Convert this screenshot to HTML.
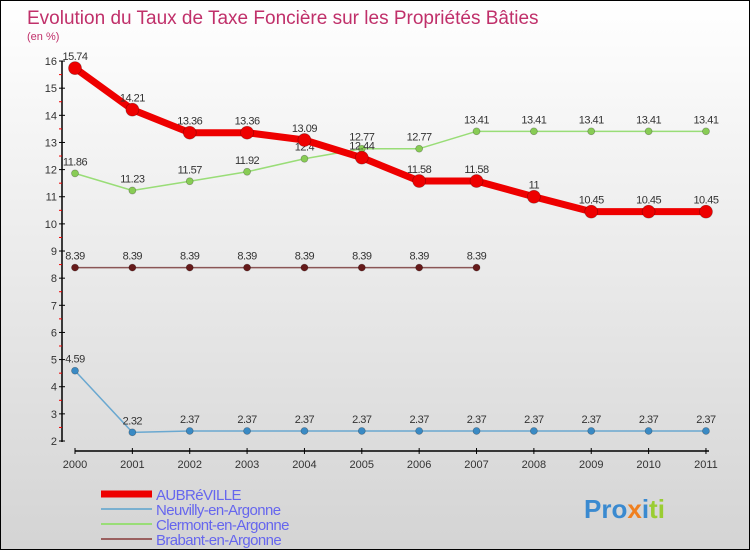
<!DOCTYPE html>
<html><head><meta charset="utf-8"><style>
body{margin:0;width:750px;height:550px;overflow:hidden;font-family:"Liberation Sans",sans-serif}
#c{position:absolute;left:0;top:0;width:748px;height:548px;border:1px solid #000;background:linear-gradient(#fff,#d4d4d4)}
</style></head><body>
<div id="c">
<svg id="s" width="748" height="548"></svg>
</div>
<script>
const years=["2000","2001","2002","2003","2004","2005","2006","2007","2008","2009","2010","2011"];
const aubreville=[15.74,14.21,13.36,13.36,13.09,12.44,11.58,11.58,11,10.45,10.45,10.45];
const neuvilly=[4.59,2.32,2.37,2.37,2.37,2.37,2.37,2.37,2.37,2.37,2.37,2.37];
const clermont=[11.86,11.23,11.57,11.92,12.4,12.77,12.77,13.41,13.41,13.41,13.41,13.41];
const brabant=[8.39,8.39,8.39,8.39,8.39,8.39,8.39,8.39];
const yTicks=[2,3,4,5,6,7,8,9,10,11,12,13,14,15,16];
const NS="http://www.w3.org/2000/svg";
const s=document.getElementById('s');
const X=i=>74+i*57.36;
const Y=v=>440-(v-2)*27.14;
function el(t,a,p){const e=document.createElementNS(NS,t);for(const k in a)e.setAttribute(k,a[k]);(p||s).appendChild(e);return e;}
let t=el('text',{x:26,y:23,fill:'#c0306a','font-size':19});t.textContent="Evolution du Taux de Taxe Foncière sur les Propriétés Bâties";

t=el('text',{x:26,y:39,fill:'#c0306a','font-size':11});t.textContent="(en %)";

let ax=el('line',{x1:61,y1:Y(16),x2:61,y2:441,stroke:'#000','stroke-width':1.5});

yTicks.forEach(v=>{
 el('line',{x1:58,x2:64,y1:Y(v),y2:Y(v),stroke:'#000'});
 if(v<16)el('line',{x1:58,x2:61,y1:Y(v+0.5),y2:Y(v+0.5),stroke:'#e00'});
 const l=el('text',{x:56,y:Y(v)+4,'text-anchor':'end','font-size':11,fill:'#333'});l.textContent=v;
 
});
ax=el('line',{x1:74,y1:450,x2:708,y2:450,stroke:'#000','stroke-width':1.5});

years.forEach((y,i)=>{
 el('line',{x1:X(i),x2:X(i),y1:447,y2:453,stroke:'#000'});
 const l=el('text',{x:X(i),y:467,'text-anchor':'middle','font-size':11,fill:'#333'});l.textContent=y;
 
});
function series(vals,col,w,r,name,mcol){
 const g=el('g',{});
 el('polyline',{points:vals.map((v,i)=>X(i)+','+Y(v)).join(' '),fill:'none',stroke:col,'stroke-width':w,'stroke-linejoin':'round'},g);
 vals.forEach((v,i)=>{
  const c=el('circle',{cx:X(i),cy:Y(v),r:r,fill:mcol||col,stroke:'rgba(0,0,0,0.3)','stroke-width':0.7},g);
  
  const l=el('text',{x:X(i),y:Y(v)-8,'text-anchor':'middle','font-size':11,fill:'#333','letter-spacing':-0.5},g);l.textContent=v;
 });
}
series(clermont,'#99dd77',1.5,3.5,'clermont','#88cc55');
series(brabant,'#8a5555',1.5,3.5,'brabant','#661a1a');
series(neuvilly,'#6aa8d0',1.5,3.5,'neuvilly','#3a8ac4');
series(aubreville,'#ee0000',7,6.5,'aubreville','#ee0000');
const leg=[["AUBRéVILLE","#ee0000",7],["Neuvilly-en-Argonne","#7ab0d0",2],["Clermont-en-Argonne","#99dd77",2],["Brabant-en-Argonne","#9a6060",2]];
leg.forEach((L,i)=>{
 const g=el('g',{});
 const y=493+i*15;
 el('line',{x1:100,x2:151,y1:y,y2:y,stroke:L[1],'stroke-width':L[2]},g);
 const tt=el('text',{x:155,y:y+6,'font-size':15,fill:'#6666ee','letter-spacing':-0.6},g);tt.textContent=L[0];
});
t=el('text',{x:583,y:517,'font-size':26,'font-weight':'bold',fill:'#3a8ad0'});
t.innerHTML='<tspan fill="#3a8ad0">Pro</tspan><tspan fill="#f08020">x</tspan><tspan fill="#3a8ad0">i</tspan><tspan fill="#9acd32">ti</tspan>';

</script>
</body></html>
